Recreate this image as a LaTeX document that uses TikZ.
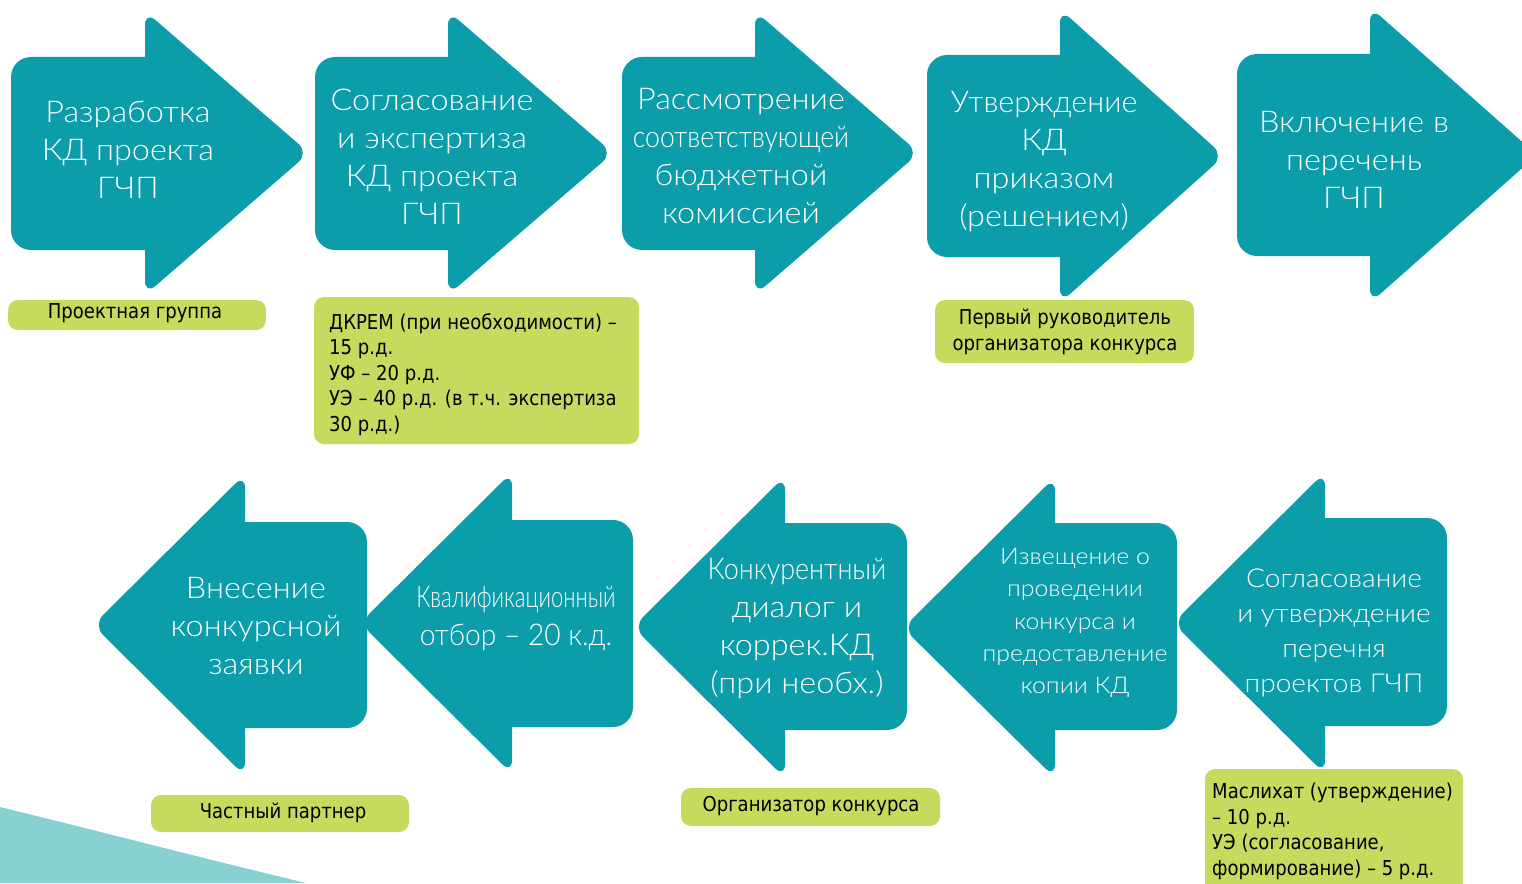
\documentclass[tikz,border=0pt]{standalone}
\usepackage{fontspec}
\usepackage{graphicx}
\newfontfamily\lightfont{Lato Light}[FakeStretch=1.08]
\newfontfamily\boxfont{DejaVu Sans}[FakeStretch=0.88]
\definecolor{arrowteal}{RGB}{12,157,170}
\definecolor{boxgreen}{RGB}{197,219,94}
\definecolor{paleteal}{RGB}{136,209,210}
\newcommand\rarrow[8]{%
  \fill[arrowfill,rounded corners=20pt] (#1,#3) rectangle (#2+30,#4);
  \fill[arrowfill,rounded corners=14pt] (#2,#5-6) -- (#7,#8) -- (#2,#6+6) -- cycle;}
\newcommand\larrow[8]{%
  \fill[arrowfill,rounded corners=20pt] (#2-30,#3) rectangle (#1,#4);
  \fill[arrowfill,rounded corners=14pt] (#2,#5-6) -- (#7,#8) -- (#2,#6+6) -- cycle;}
\begin{document}
\begin{tikzpicture}[x=1pt,y=-1pt,
  arrowfill/.style={fill=arrowteal},
  arrowtext/.style={text=white,font=\lightfont\fontsize{30}{38}\selectfont,align=center,inner sep=0pt},
  gbox/.style={fill=boxgreen,rounded corners=10pt},
  gtext/.style={text=black,font=\boxfont\fontsize{20.5}{25.6}\selectfont,inner sep=0pt}]
\useasboundingbox (0,0) rectangle (1522,883);
\clip (0,0) rectangle (1522,883);
% background swoosh
\fill[paleteal] (0,807) .. controls (110,834) and (210,860) .. (306,883) -- (0,883) -- cycle;
% top row
\rarrow{11}{145}{57}{250}{17}{289}{309}{153}
\rarrow{315}{448}{57}{250}{17}{289}{613}{153}
\rarrow{622}{755}{57}{250}{17}{289}{919}{153}
\rarrow{927}{1060}{55}{257}{15}{297}{1224}{156}
\rarrow{1237}{1370}{54}{256}{13}{297}{1537}{155}
% bottom row
\larrow{367}{245}{522}{728}{480}{770}{93}{625}
\larrow{633}{512}{520}{727}{478}{768}{360}{623}
\larrow{907}{785}{523}{730}{482}{772}{633}{627}
\larrow{1177}{1055}{523}{730}{483}{772}{903}{628}
\larrow{1447}{1325}{518}{726}{478}{768}{1173}{623}
% arrow texts
\node[arrowtext] (t1) at (128,150) {Разработка\\КД проекта\\ГЧП};
\node[arrowtext] (t2) at (432,157) {Согласование\\и экспертиза\\КД проекта\\ГЧП};
\node[arrowtext] (t3) at (741,156) {Рассмотрение\\\scalebox{0.82}[1]{соответствующей}\\бюджетной\\комиссией};
\node[arrowtext] (t4) at (1044,162) {\scalebox{0.94}[1]{Утверждение}\\КД\\приказом\\(решением)};
\node[arrowtext] (t5) at (1354,160) {Включение в\\перечень\\ГЧП};
\node[arrowtext] (t6) at (256,626) {Внесение\\конкурсной\\заявки};
\node[arrowtext] (t7) at (516,619) {\scalebox{0.68}[1]{Квалификационный}\\\scalebox{0.87}[1]{отбор – 20 к.д.}};
\node[arrowtext] (t8) at (797,629) {\scalebox{0.83}[1]{Конкурентный}\\диалог и\\коррек.КД\\(при необх.)};
\node[arrowtext,font=\lightfont\fontsize{23}{32.3}\selectfont] (t9) at (1075,623) {Извещение о\\проведении\\конкурса и\\предоставление\\копии КД};
\node[arrowtext,font=\lightfont\fontsize{26}{35.3}\selectfont] (t10) at (1334,633) {Согласование\\и утверждение\\перечня\\проектов ГЧП};
% green boxes
\fill[gbox] (8,300) rectangle (266,330);
\node[gtext] (g1) at (135,313) {Проектная группа};
\fill[gbox] (314,297) rectangle (639,444);
\node[gtext,anchor=north west,align=left] (g2) at (329,313) {ДКРЕМ (при необходимости) –\\15 р.д.\\УФ – 20 р.д.\\УЭ – 40 р.д. (в т.ч. экспертиза\\30 р.д.)};
\fill[gbox] (935,300) rectangle (1194,363);
\node[gtext,align=center] (g3) at (1065,332) {Первый руководитель\\организатора конкурса};
\fill[gbox] (1205,769) rectangle (1463,900);
\node[gtext,anchor=north west,align=left] (g4) at (1212,783) {Маслихат (утверждение)\\– 10 р.д.\\УЭ (согласование,\\формирование) – 5 р.д.};
\fill[gbox] (151,795) rectangle (409,832);
\node[gtext] (g5) at (283,813) {Частный партнер};
\fill[gbox] (681,788) rectangle (940,826);
\node[gtext] (g6) at (811,806) {Организатор конкурса};
\end{tikzpicture}
\end{document}
